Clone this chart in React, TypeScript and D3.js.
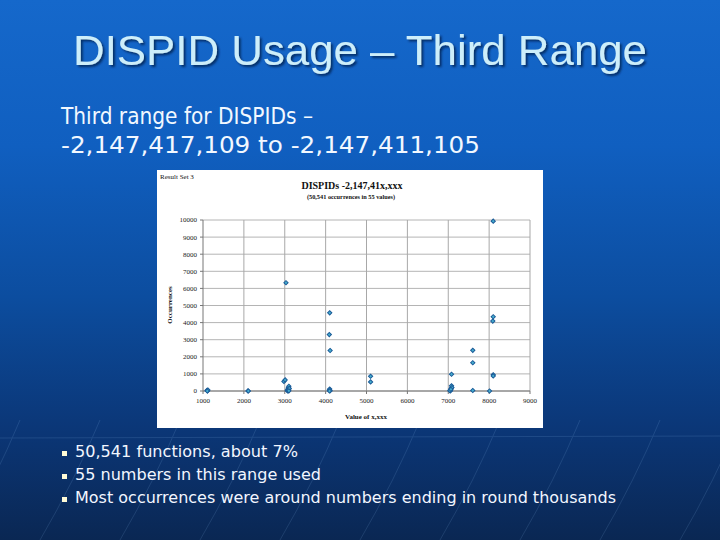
import React from "react";
import * as d3 from "d3";

const slideTitle = "DISPID Usage – Third Range";
const introLines = ["Third range for DISPIDs –", "-2,147,417,109 to -2,147,411,105"];
const bullets = [
  "50,541 functions, about 7%",
  "55 numbers in this range used",
  "Most occurrences were around numbers ending in round thousands",
];
const chartCorner = "Result Set 3";
const chartTitle = "DISPIDs -2,147,41x,xxx";
const chartSubtitle = "(50,541 occurrences in 55 values)";
const xTitle = "Value of x,xxx";
const yTitle = "Occurrences";
const xTicks = [1000, 2000, 3000, 4000, 5000, 6000, 7000, 8000, 9000];
const yTicks = [0, 1000, 2000, 3000, 4000, 5000, 6000, 7000, 8000, 9000, 10000];

const pointX = [
  1100, 1110, 1120, 1105,
  2100, 2110,
  2980, 3010, 3030, 3060, 3080, 3090, 3100, 3070, 3085, 3095, 3110, 3100,
  4100, 4090, 4110, 4090, 4100, 4110, 4095,
  5100, 5100,
  7050, 7060, 7070, 7080, 7080, 7090, 7040, 7065,
  7600, 7600, 7600,
  8010,
  8100, 8100, 8090, 8100, 8100,
];
const pointY = [
  40, 10, 60, 0,
  5, 0,
  560, 650, 6330, 50, 120, 200, 280, 0, 20, 80, 150, 10,
  4570, 3300, 2370, 60, 110, 20, 0,
  860, 530,
  0, 60, 150, 300, 980, 200, 30, 100,
  2380, 1650, 30,
  0,
  9930, 4340, 4090, 950, 880,
];

export default function App() {
  const W = 720, H = 540;
  const box = { x: 157, y: 170, w: 386, h: 258 };
  const plot = { left: 203, right: 530, top: 220, bottom: 391 };
  const x = d3.scaleLinear().domain([1000, 9000]).range([plot.left, plot.right]);
  const y = d3.scaleLinear().domain([0, 10000]).range([plot.bottom, plot.top]);
  const marker = d3.symbol().type(d3.symbolSquare).size(9)() as string;
  const serif = "'Liberation Serif', 'Times New Roman', serif";

  const bgLines = [-100, -20, 60, 140, 220, 300, 380, 460, 540, 620, 700, 780];
  const bulletLengths = [223, 246, 541];

  return (
    <svg width={W} height={H} style={{ position: "fixed", left: 0, top: 0 }} xmlns="http://www.w3.org/2000/svg">
      <defs>
        <linearGradient id="bg" x1="0" y1="0" x2="0" y2="1">
          <stop offset="0" stopColor="#1568cb" />
          <stop offset="0.27" stopColor="#105fc0" />
          <stop offset="0.55" stopColor="#0c4d9f" />
          <stop offset="0.8" stopColor="#0b3676" />
          <stop offset="1" stopColor="#0a2753" />
        </linearGradient>
        <filter id="shadow" x="-5%" y="-5%" width="110%" height="120%">
          <feDropShadow dx="2" dy="2" stdDeviation="1" floodColor="#02234f" floodOpacity="0.8" />
        </filter>
      </defs>
      <rect x={0} y={0} width={W} height={H} fill="url(#bg)" />
      <g opacity={0.13} stroke="#9fd0ff" fill="none" strokeWidth={1}>
        {bgLines.map((bx, i) => (
          <path key={i} d={`M${bx + 40},420 Q${bx + 15},480 ${bx - 20},540`} />
        ))}
        <path d="M0,438 L720,436" />
      </g>

      <text x={360} y={65} textAnchor="middle" fontFamily="'Liberation Sans', Arial, sans-serif" fontSize={42}
        fill="#cdeefa" filter="url(#shadow)" textLength={574} lengthAdjust="spacingAndGlyphs">{slideTitle}</text>

      {introLines.map((t, i) => (
        <text key={i} x={61} y={124 + i * 29} fontFamily="'DejaVu Sans', Verdana, sans-serif" fontSize={23}
          fill="#f2f8ff" textLength={i === 1 ? 419 : 252} lengthAdjust="spacingAndGlyphs">{t}</text>
      ))}

      {/* chart image */}
      <rect x={box.x} y={box.y} width={box.w} height={box.h} fill="#ffffff" />
      <text x={160} y={179} fontFamily={serif} fontSize={7} fill="#111">{chartCorner}</text>
      <text x={352} y={189} textAnchor="middle" fontFamily={serif} fontSize={10} fontWeight="bold" fill="#111">{chartTitle}</text>
      <text x={351} y={198.5} textAnchor="middle" fontFamily={serif} fontSize={6.3} fontWeight="bold" fill="#111">{chartSubtitle}</text>

      {yTicks.map((v) => (
        <line key={"gy" + v} x1={plot.left} x2={plot.right} y1={y(v)} y2={y(v)} stroke="#b4b4b4" strokeWidth={1} />
      ))}
      {xTicks.filter((v) => v > 1000).map((v) => (
        <line key={"gx" + v} x1={x(v)} x2={x(v)} y1={plot.top} y2={plot.bottom} stroke="#a8a8a8" strokeWidth={1} />
      ))}
      <line x1={plot.left} x2={plot.left} y1={plot.top} y2={plot.bottom} stroke="#777" strokeWidth={1} />
      <line x1={plot.left} x2={plot.right} y1={plot.bottom} y2={plot.bottom} stroke="#777" strokeWidth={1} />
      {yTicks.map((v) => (
        <g key={"ty" + v}>
          <line x1={plot.left - 3} x2={plot.left} y1={y(v)} y2={y(v)} stroke="#777" />
          <text x={197} y={y(v) + 2.4} textAnchor="end" fontFamily={serif} fontSize={7} fill="#222">{v}</text>
        </g>
      ))}
      {xTicks.map((v) => (
        <g key={"tx" + v}>
          <line x1={x(v)} x2={x(v)} y1={plot.bottom} y2={plot.bottom + 3} stroke="#777" />
          <text x={x(v)} y={403} textAnchor="middle" fontFamily={serif} fontSize={7} fill="#222">{v}</text>
        </g>
      ))}
      <text x={366} y={419} textAnchor="middle" fontFamily={serif} fontSize={7} fontWeight="bold" fill="#111">{xTitle}</text>
      <text transform="translate(172,305) rotate(-90)" textAnchor="middle" fontFamily={serif} fontSize={7} fontWeight="bold" fill="#111">{yTitle}</text>

      {pointX.map((px, i) => (
        <path key={"p" + i} d={marker} transform={`translate(${x(px)},${y(pointY[i])}) rotate(45)`}
          fill="#45b0cf" stroke="#1c5b98" strokeWidth={1} />
      ))}

      {bullets.map((t, i) => (
        <g key={"b" + i}>
          <rect x={62} y={451 + i * 23} width={5} height={5} fill="#fffbd6" />
          <text x={75} y={457 + i * 23} fontFamily="'DejaVu Sans', Verdana, sans-serif" fontSize={15} fill="#f2f6ff"
            textLength={bulletLengths[i]} lengthAdjust="spacingAndGlyphs">{t}</text>
        </g>
      ))}
    </svg>
  );
}
